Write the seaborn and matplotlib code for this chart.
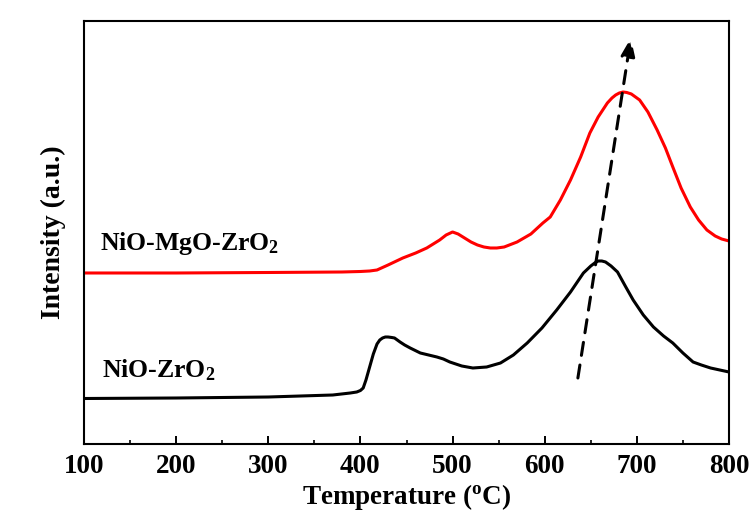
import numpy as np
import pandas as pd
import matplotlib
matplotlib.use("Agg")
import matplotlib.pyplot as plt
import seaborn as sns

# ── Data (temperature in °C, intensity in a.u.) ──
T_ZR = [100, 200, 300, 370, 389, 396, 400, 403, 406, 410, 414, 418, 421, 424,
        427, 430, 434, 437, 443, 448, 454, 465, 474, 483, 490, 497, 510, 522,
        537, 552, 566, 581, 597, 613, 628, 642, 650, 655, 658, 662, 666, 672,
        679, 688, 696, 707, 718, 729, 739, 750, 761, 770, 780, 790, 800]
I_ZR = [45.5, 46, 47, 49, 51, 52, 53.5, 56, 64, 77, 90, 100, 104, 106,
        107, 107, 106.5, 106, 102, 99, 96, 91, 89, 87, 85, 82, 78, 76,
        77, 81, 89, 101, 116, 134, 152, 171, 178, 181.5, 183, 183, 182, 178,
        172, 157, 144, 129, 117, 108, 101, 91, 82, 79, 76, 74, 72]

T_MG = [100, 200, 300, 380, 400, 410, 418, 430, 446, 460, 472, 486, 493, 500,
        506, 513, 520, 527, 534, 541, 548, 556, 570, 585, 598, 606, 617, 628,
        639, 649, 658, 668, 673, 677, 681, 685, 689, 694, 703, 712, 722, 731,
        739, 748, 758, 767, 776, 785, 792, 800]
I_MG = [171, 171, 171.5, 172, 172.5, 173, 174, 179, 186, 191, 196, 204, 209, 212,
        210, 206, 202, 199, 197, 196, 196, 197, 202, 210, 221, 227, 244, 264,
        287, 311, 327, 341, 346, 349, 351, 352, 351.5, 350, 344, 332, 314, 296,
        277, 256, 237, 224, 214, 208, 205, 203]

LABELS = ["NiO-ZrO$_2$", "NiO-MgO-ZrO$_2$"]
COLORS = ["#000000", "#FF0000"]

# arrow showing the shift of the high-temperature peak
ARROW_TAIL = (636, 66)
ARROW_TIP = (693.5, 406)

df = pd.concat([
    pd.DataFrame({"T": T_ZR, "I": I_ZR, "sample": LABELS[0]}),
    pd.DataFrame({"T": T_MG, "I": I_MG, "sample": LABELS[1]}),
])

sns.set_theme(style="ticks")
plt.rcParams["font.family"] = ["Liberation Serif", "DejaVu Serif"]
plt.rcParams["font.weight"] = "bold"
plt.rcParams["text.color"] = "black"
plt.rcParams["axes.labelcolor"] = "black"
plt.rcParams["xtick.color"] = "black"
plt.rcParams["mathtext.fontset"] = "custom"
plt.rcParams["mathtext.rm"] = "Liberation Serif:bold"
plt.rcParams["mathtext.it"] = "Liberation Serif:bold:italic"
plt.rcParams["mathtext.bf"] = "Liberation Serif:bold"

fig = plt.figure(figsize=(7.5, 5.13), dpi=100)
fig.patch.set_facecolor("white")
ax = fig.add_axes([0.112, 0.1345, 0.86, 0.8246])

sns.lineplot(data=df, x="T", y="I", hue="sample", palette=COLORS,
             linewidth=2.2, legend=False, ax=ax, sort=False, estimator=None)
for ln in ax.get_lines():
    ln.set_solid_joinstyle("round")
    ln.set_solid_capstyle("round")

ax.set_xlim(100, 800)
ax.set_ylim(0, 423)
ax.set_xticks(np.arange(100, 801, 100))
ax.set_xticks(np.arange(150, 800, 100), minor=True)
ax.set_yticks([])
ax.tick_params(axis="x", which="major", direction="in", length=6, width=1.4,
               labelsize=19.5, pad=7, colors="black")
ax.tick_params(axis="x", which="minor", direction="in", length=3, width=1.2)
for lab in ax.get_xticklabels():
    lab.set_fontweight("bold")
for sp in ax.spines.values():
    sp.set_linewidth(1.5)
    sp.set_color("black")

ax.set_xlabel("Temperature ($^{\\mathrm{o}}$C)", fontsize=19.5, fontweight="bold",
              labelpad=2)
ax.set_ylabel("Intensity (a.u.)", fontsize=20, fontweight="bold", labelpad=13)

ax.text(119, 67, LABELS[0], fontsize=18.5, fontweight="bold", va="baseline")
ax.text(117, 194, LABELS[1], fontsize=18.5, fontweight="bold", va="baseline")

ax.annotate("", xy=ARROW_TIP, xytext=ARROW_TAIL,
            arrowprops=dict(arrowstyle="-|>,head_length=0.9,head_width=0.35",
                            lw=2.2, ls=(0, (4.3, 3.2)), color="black",
                            shrinkA=0, shrinkB=0))

fig.savefig("out.png", dpi=100, facecolor="white")
